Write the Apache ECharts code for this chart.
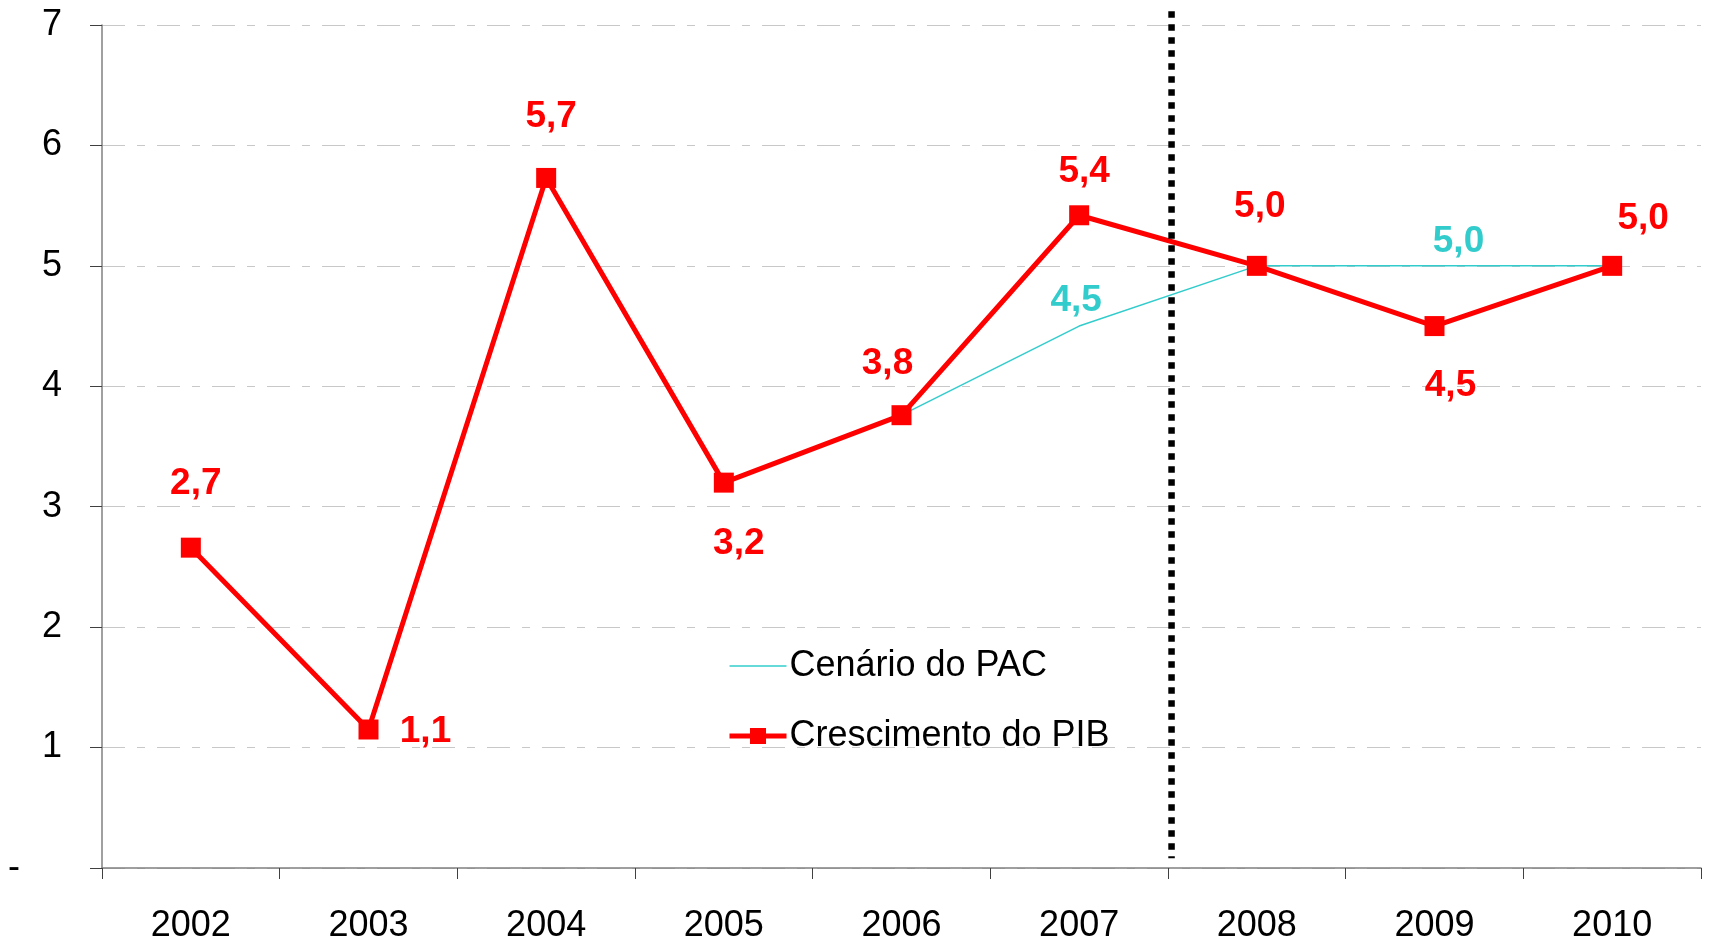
<!DOCTYPE html>
<html><head><meta charset="utf-8">
<script src="https://cdn.jsdelivr.net/npm/echarts@6/dist/echarts.min.js"></script>
<style>html,body{margin:0;padding:0;background:#fff}#c{width:1710px;height:941px}</style>
</head><body><div id="c"></div>
<script>
const categories = ['2002','2003','2004','2005','2006','2007','2008','2009','2010'];
const pibValues = [2.66, 1.15, 5.73, 3.2, 3.76, 5.42, 5.0, 4.5, 5.0];
const pacValues = [null, null, null, null, 3.76, 4.5, 5.0, 5.0, 5.0];
const pibLabelShown = [true, true, true, true, true, true, true, true, true];
const pacLabelShown = [false, false, false, false, false, true, false, true, false];
const yTicks = [0, 1, 2, 3, 4, 5, 6, 7];
const dividerX = [6.02, 6.02];
const dividerY = [7.115, 0.08];

const pibOffsets = [[5,-64],[57,2],[5,-61],[15,61],[-14,-51],[5,-43],[3,-59],[16,60],[31,-47]];
const pacOffsets = [null,null,null,null,null,[-3,-25],null,[24,-24],null];

const RED = '#FF0000', CYAN = '#33CCCC';
const fmt = v => v.toFixed(1).replace('.', ',');

const chart = echarts.init(document.getElementById('c'));
chart.setOption({
  animation: false,
  textStyle: { fontFamily: 'Liberation Sans, Arial, sans-serif' },
  grid: { left: 102, right: 9, top: 25, bottom: 73, containLabel: false, outerBoundsMode: 'none' },
  legend: {
    orient: 'vertical',
    left: 722, top: 643,
    itemWidth: 57, itemHeight: 20, itemGap: 34,
    textStyle: { fontSize: 36, color: '#000', padding: [0,0,0,-2] },
    data: [
      { name: 'Cenário do PAC', itemStyle: { opacity: 0 }, lineStyle: { width: 1.5, color: CYAN } },
      { name: 'Crescimento do PIB', lineStyle: { width: 5, color: RED } }
    ]
  },
  xAxis: [{
    type: 'category', data: categories, boundaryGap: true,
    axisLine: { lineStyle: { color: '#808080', width: 1.5 } },
    axisTick: { show: true, length: 11, alignWithLabel: false, lineStyle: { color: '#404040', width: 1 } },
    axisLabel: { fontSize: 36, color: '#000', margin: 40 },
    splitLine: { show: false }
  }, {
    type: 'value', min: 0, max: 9, show: false
  }],
  yAxis: {
    type: 'value', min: yTicks[0], max: yTicks[yTicks.length-1], interval: 1,
    axisLine: { show: true, lineStyle: { color: '#808080', width: 1.5 } },
    axisTick: { show: true, length: 12, lineStyle: { color: '#404040', width: 1 } },
    axisLabel: {
      fontSize: 36, color: '#000', margin: 40,
      formatter: v => v === 0 ? '{d|-}' : String(v),
      rich: { d: { fontSize: 36, color: '#000', padding: [0, 42, 0, 0] } }
    },
    splitLine: { show: true, lineStyle: { color: '#c8c8c8', width: 1.2, type: [23,12,8,12] } }
  },
  series: [{
    name: 'Cenário do PAC', type: 'line', xAxisIndex: 0,
    data: pacValues.map((v, i) => ({
      value: v,
      label: pacLabelShown[i] ? { show: true, position: 'inside', offset: pacOffsets[i] } : { show: false }
    })),
    symbol: 'circle', symbolSize: 0.01, showSymbol: true, connectNulls: false,
    lineStyle: { color: CYAN, width: 1.5 }, itemStyle: { color: CYAN },
    label: { fontSize: 37, fontWeight: 'bold', color: CYAN, formatter: p => fmt(p.value) },
    z: 2
  }, {
    name: 'Crescimento do PIB', type: 'line', xAxisIndex: 0,
    data: pibValues.map((v, i) => ({
      value: v,
      label: pibLabelShown[i] ? { show: true, position: 'inside', offset: pibOffsets[i] } : { show: false }
    })),
    symbol: 'rect', symbolSize: 20,
    lineStyle: { color: RED, width: 5 }, itemStyle: { color: RED },
    label: { fontSize: 37, fontWeight: 'bold', color: RED, formatter: p => fmt(p.value) },
    z: 3
  }, {
    name: 'divider', type: 'line', xAxisIndex: 1, clip: false,
    data: dividerX.map((x, i) => [x, dividerY[i]]),
    symbol: 'none', silent: true,
    lineStyle: { color: '#000', width: 6.5, type: [6.5, 6.5], cap: 'butt' },
    z: 4
  }]
});
</script></body></html>
